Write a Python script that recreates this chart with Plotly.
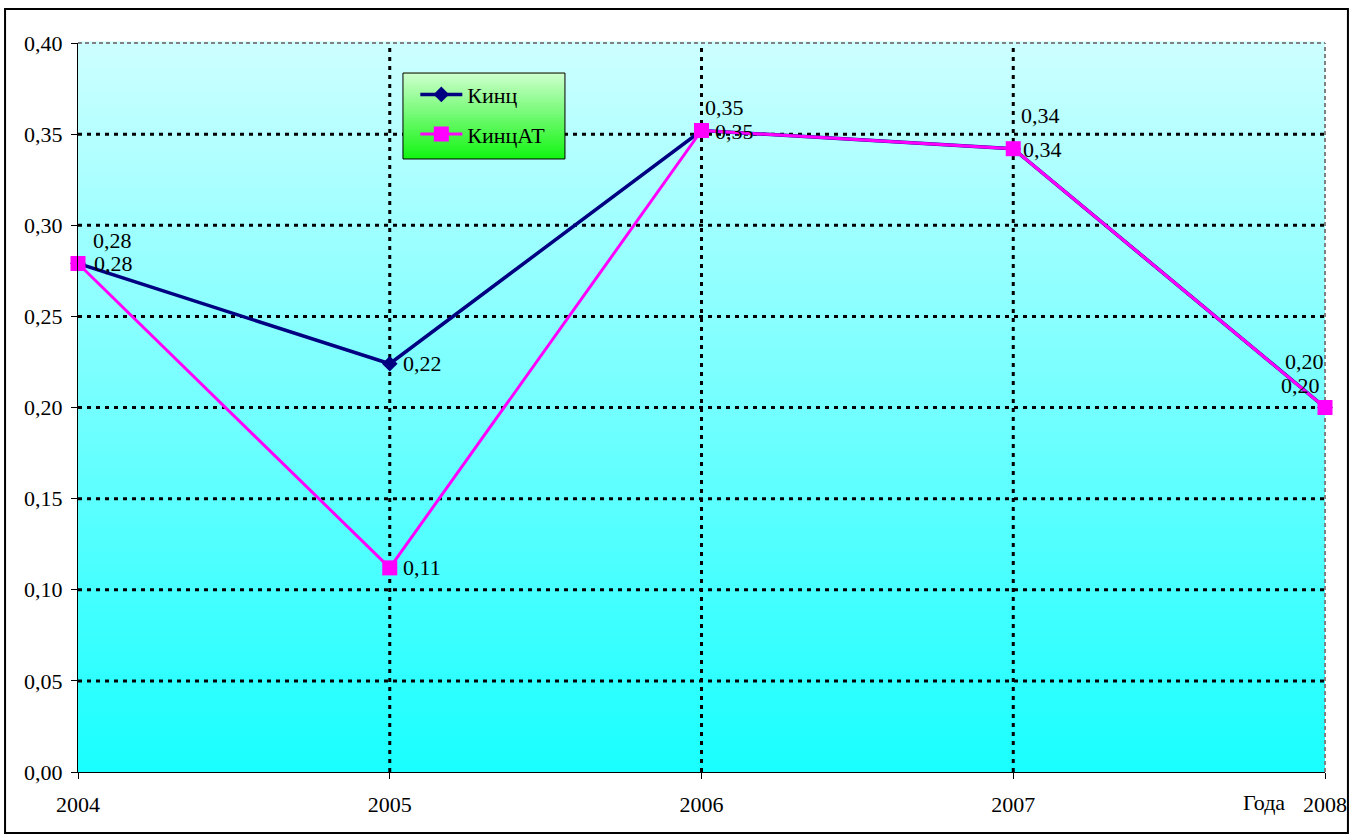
import plotly.graph_objects as go

years = [2004, 2005, 2006, 2007, 2008]
kinc = [0.279, 0.224, 0.352, 0.342, 0.200]
kinc_at = [0.279, 0.112, 0.352, 0.342, 0.200]
y_ticks = [0.00, 0.05, 0.10, 0.15, 0.20, 0.25, 0.30, 0.35, 0.40]

# label offsets in px (x, y) relative to each point
kinc_offsets = [(13, 23), (11, 0), (1, 23), (6, 33), (-42, 46)]
kinc_at_offsets = [(14, 0), (11, 0), (11, -1), (8, -1), (-46, 22)]

FONT = "Liberation Serif, Times New Roman, serif"


def mix(c1, c2, t):
    return "rgb({},{},{})".format(*[round(a + (b - a) * t) for a, b in zip(c1, c2)])


fig = go.Figure()

fig.add_trace(go.Scatter(
    x=years, y=kinc, name="Кинц", mode="lines+markers",
    line=dict(color="#000080", width=3.5),
    marker=dict(symbol="diamond", size=12, color="#000080"),
    legendgroup="a", cliponaxis=False,
))
fig.add_trace(go.Scatter(
    x=years, y=kinc_at, name="КинцАТ", mode="lines+markers",
    line=dict(color="#FF00FF", width=3),
    marker=dict(symbol="square", size=15, color="#FF00FF"),
    legendgroup="b", cliponaxis=False,
))

shapes = []
# plot area gradient
n = 120
for i in range(n):
    shapes.append(dict(
        type="rect", xref="x domain", yref="y domain", layer="below",
        x0=0, x1=1, y0=i / n, y1=(i + 1) / n + 0.002,
        fillcolor=mix((26, 255, 255), (204, 255, 255), i / (n - 1)),
        line=dict(width=0),
    ))
# grid lines
for v in y_ticks[1:-1]:
    shapes.append(dict(type="line", xref="x domain", yref="y", layer="below",
                       x0=0, x1=1, y0=v, y1=v,
                       line=dict(color="black", width=3, dash="4px,5px")))
for yr in years[1:-1]:
    shapes.append(dict(type="line", xref="x", yref="y domain", layer="below",
                       x0=yr, x1=yr, y0=0, y1=1,
                       line=dict(color="black", width=3, dash="4px,5px")))
# plot area border (top, right)
shapes.append(dict(type="line", xref="x domain", yref="y domain", layer="below",
                   x0=0, x1=1, y0=1, y1=1,
                   line=dict(color="#808080", width=2, dash="4px,3px")))
shapes.append(dict(type="line", xref="x domain", yref="y domain", layer="below",
                   x0=1, x1=1, y0=0, y1=1,
                   line=dict(color="#808080", width=2, dash="4px,3px")))

# legend box gradient
lx0, lx1, ly0, ly1 = 0.2606, 0.3905, 0.8409, 0.9588
m = 40
for i in range(m):
    shapes.append(dict(
        type="rect", xref="paper", yref="paper", layer="above",
        x0=lx0, x1=lx1,
        y0=ly0 + (ly1 - ly0) * i / m, y1=ly0 + (ly1 - ly0) * (i + 1) / m + 0.001,
        fillcolor=mix((20, 245, 20), (204, 255, 204), i / (m - 1)),
        line=dict(width=0),
    ))
shapes.append(dict(type="rect", xref="paper", yref="paper", layer="above",
                   x0=lx0, x1=lx1, y0=ly0, y1=ly1,
                   line=dict(color="black", width=1)))
# chart outer border
shapes.append(dict(type="rect", xref="paper", yref="paper", layer="above",
                   x0=-0.0585, x1=1.0184, y0=-0.0837, y1=1.0466,
                   line=dict(color="black", width=2)))

annotations = []
for vals, offs in ((kinc, kinc_offsets), (kinc_at, kinc_at_offsets)):
    for x, v, (dx, dy) in zip(years, vals, offs):
        annotations.append(dict(
            x=x, y=v, xref="x", yref="y", text=f"{v:.2f}".replace(".", ","),
            showarrow=False, xanchor="left", yanchor="middle",
            xshift=dx, yshift=dy, font=dict(family=FONT, size=22, color="black"),
        ))
annotations.append(dict(
    x=0.951, y=-0.0425, xref="paper", yref="paper", text="Года",
    showarrow=False, xanchor="center", yanchor="middle",
    font=dict(family=FONT, size=22, color="black"),
))

fig.update_layout(
    width=1364, height=835,
    margin=dict(l=78, r=39, t=43, b=63),
    paper_bgcolor="white", plot_bgcolor="white",
    font=dict(family=FONT, size=22, color="black"),
    separators=", ",
    showlegend=True,
    legend=dict(x=0.2705, y=0.958, xanchor="left", yanchor="top",
                bgcolor="rgba(0,0,0,0)", borderwidth=0,
                traceorder="grouped", tracegroupgap=8, itemwidth=42,
                font=dict(family=FONT, size=22, color="black")),
    shapes=shapes,
    annotations=annotations,
)
fig.update_xaxes(
    range=[2004, 2008], tickvals=years, showgrid=False, zeroline=False,
    showline=True, linecolor="black", linewidth=1,
    ticks="outside", ticklen=6, tickcolor="black",
    ticklabelstandoff=7, tickfont=dict(family=FONT, size=22),
)
fig.update_yaxes(
    range=[0, 0.4], tickvals=y_ticks, tickformat=".2f", showgrid=False, zeroline=False,
    showline=True, linecolor="black", linewidth=1,
    ticks="outside", ticklen=6, tickcolor="black",
    ticklabelstandoff=4, tickfont=dict(family=FONT, size=22),
)

fig.write_html("out.html", config={"displayModeBar": False},
               post_script="document.body.style.margin='0';")
